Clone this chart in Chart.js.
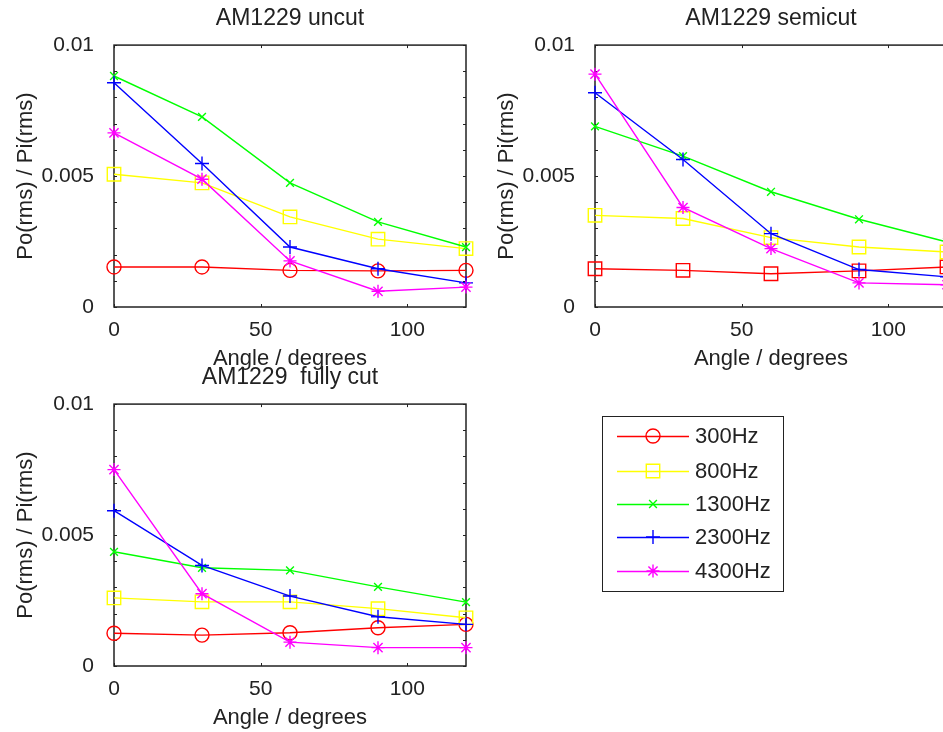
<!DOCTYPE html>
<html>
<head>
<meta charset="utf-8">
<script src="https://cdn.jsdelivr.net/npm/chart.js@4/dist/chart.umd.min.js"></script>
<style>
  html, body { margin: 0; padding: 0; background: #fff; overflow: hidden; }
  body { width: 943px; height: 732px; position: relative; }
  canvas.panel { position: absolute; }
  #legend {
    position: absolute; left: 602px; top: 416px; width: 180px; height: 174px;
    border: 1.5px solid #222; background: #fff;
    font-family: "Liberation Sans", Arial, sans-serif; font-size: 22px; color: #222;
  }
  #legend canvas { position: absolute; left: 0; top: 0; }
  #legend span { position: absolute; left: 92px; line-height: 24px; }
</style>
</head>
<body>
<canvas id="uncut" class="panel" width="480" height="370" style="left:0;top:0"></canvas>
<canvas id="semicut" class="panel" width="480" height="370" style="left:481px;top:0"></canvas>
<canvas id="fullycut" class="panel" width="480" height="370" style="left:0;top:359px"></canvas>
<div id="legend"><canvas id="legendMarks" width="180" height="174"></canvas></div>
<script>
/* 각도 (x 값) */
const angles = [0, 30, 60, 90, 120];

/* 주파수 이름, 색 */
const seriesNames = ['300Hz', '800Hz', '1300Hz', '2300Hz', '4300Hz'];
const seriesColors = ['#ff0000', '#ffff00', '#00ff00', '#0000ff', '#ff00ff'];

/* 패널별 마커 */
const markersDefault = ['circle', 'rect', 'crossRot', 'cross', 'star'];
const markersSemicut = ['rect', 'rect', 'crossRot', 'cross', 'star'];
const markerRadius = { circle: 7, rect: 9.5, crossRot: 5.5, cross: 7, star: 6.5 };

/* Po(rms) / Pi(rms) 값: 300Hz, 800Hz, 1300Hz, 2300Hz, 4300Hz 순 */
const uncutValues = [
  [0.00153, 0.00153, 0.0014, 0.00138, 0.0014],
  [0.00507, 0.00474, 0.00344, 0.00259, 0.00223],
  [0.00882, 0.00726, 0.00474, 0.00325, 0.00229],
  [0.00856, 0.00548, 0.00229, 0.00146, 0.00092],
  [0.00665, 0.00488, 0.00176, 0.0006, 0.00076],
];
const semicutValues = [
  [0.00146, 0.0014, 0.00127, 0.00138, 0.00153],
  [0.0035, 0.00338, 0.00265, 0.00229, 0.0021],
  [0.0069, 0.00576, 0.0044, 0.00335, 0.00248],
  [0.00818, 0.00563, 0.0028, 0.00143, 0.00115],
  [0.00889, 0.0038, 0.00223, 0.00092, 0.00085],
];
const fullycutValues = [
  [0.00125, 0.00118, 0.00127, 0.00146, 0.00159],
  [0.0026, 0.00245, 0.00245, 0.00219, 0.00184],
  [0.00436, 0.00375, 0.00365, 0.00302, 0.00244],
  [0.00593, 0.00384, 0.00267, 0.00188, 0.00159],
  [0.0075, 0.00276, 0.00091, 0.0007, 0.0007],
];

/* 눈금 */
const xTickValues = [0, 50, 100];
const xTickLabels = ['0', '50', '100'];
const yTickValues = [0, 0.005, 0.01];
const yTickLabels = ['0', '0.005', '0.01'];
const yMinorTicks = [0, 0.001, 0.002, 0.003, 0.004, 0.005, 0.006, 0.007, 0.008, 0.009, 0.01];

const fontFamily = '"Liberation Sans", Arial, sans-serif';
const textColor = '#222';

Chart.defaults.font.family = fontFamily;
Chart.defaults.color = textColor;

/* 축 상자와 안쪽 눈금, 제목은 그림 영역 가운데로 */
const boxTicks = {
  id: 'boxTicks',
  afterLayout(chart) {
    const a = chart.chartArea;
    if (chart.titleBlock) {
      chart.titleBlock.left = a.left;
      chart.titleBlock.right = a.right;
      chart.titleBlock.width = a.right - a.left;
    }
  },
  beforeDatasetsDraw(chart) {
    const { ctx, chartArea: a, scales: { x, y } } = chart;
    ctx.save();
    ctx.strokeStyle = textColor;
    ctx.lineWidth = 1.5;
    ctx.strokeRect(a.left, a.top, a.right - a.left, a.bottom - a.top);
    ctx.lineWidth = 1;
    ctx.beginPath();
    yMinorTicks.forEach((v) => {
      const py = Math.round(y.getPixelForValue(v)) + 0.5;
      ctx.moveTo(a.left, py);
      ctx.lineTo(a.left + 3, py);
      ctx.moveTo(a.right, py);
      ctx.lineTo(a.right - 3, py);
    });
    xTickValues.forEach((v) => {
      const px = Math.round(x.getPixelForValue(v)) + 0.5;
      ctx.moveTo(px, a.bottom);
      ctx.lineTo(px, a.bottom - 3);
      ctx.moveTo(px, a.top);
      ctx.lineTo(px, a.top + 3);
    });
    ctx.stroke();
    ctx.restore();
  },
};

function makePanel(id, title, values, markers) {
  const datasets = values.map((vals, i) => ({
    label: seriesNames[i],
    data: angles.map((a, j) => ({ x: a, y: vals[j] })),
    borderColor: seriesColors[i],
    borderWidth: 1.4,
    pointStyle: markers[i],
    pointRadius: markerRadius[markers[i]],
    pointBorderColor: seriesColors[i],
    pointBackgroundColor: 'rgba(0,0,0,0)',
    pointBorderWidth: 1.4,
    tension: 0,
    clip: false,
    order: values.length - i,
  }));

  new Chart(document.getElementById(id), {
    type: 'line',
    data: { datasets },
    plugins: [boxTicks],
    options: {
      responsive: false,
      animation: false,
      devicePixelRatio: 1,
      layout: { padding: { left: 0, right: 14, top: 0, bottom: 0 } },
      plugins: {
        legend: { display: false },
        tooltip: { enabled: false },
        title: {
          display: true,
          text: title,
          color: textColor,
          font: { size: 23, weight: 'normal' },
          padding: { top: 5, bottom: 12.5 },
        },
      },
      scales: {
        x: {
          type: 'linear',
          min: 0,
          max: 120,
          grid: { display: false },
          border: { display: false },
          afterBuildTicks: (scale) => {
            scale.ticks = xTickValues.map((v) => ({ value: v }));
          },
          afterFit: (scale) => {
            scale.height = 63;
          },
          ticks: {
            color: textColor,
            padding: 3,
            maxRotation: 0,
            font: { size: 21 },
            callback: (v) => xTickLabels[xTickValues.indexOf(v)],
          },
          title: {
            display: true,
            text: 'Angle / degrees',
            color: textColor,
            font: { size: 22 },
            padding: { top: 0, bottom: -2 },
          },
        },
        y: {
          type: 'linear',
          min: 0,
          max: 0.01,
          grid: { display: false },
          border: { display: false },
          afterBuildTicks: (scale) => {
            scale.ticks = yTickValues.map((v) => ({ value: v }));
          },
          afterFit: (scale) => {
            scale.width = 114;
          },
          ticks: {
            color: textColor,
            padding: 12,
            font: { size: 21 },
            callback: (v) => yTickLabels[yTickValues.indexOf(v)],
          },
          title: {
            display: true,
            text: 'Po(rms) / Pi(rms)',
            color: textColor,
            font: { size: 22 },
            padding: { top: 13, bottom: 0 },
          },
        },
      },
    },
  });
}

makePanel('uncut', 'AM1229 uncut', uncutValues, markersDefault);
makePanel('semicut', 'AM1229 semicut', semicutValues, markersSemicut);
makePanel('fullycut', 'AM1229  fully cut', fullycutValues, markersDefault);

/* 범례 */
const legendBox = document.getElementById('legend');
const legendCtx = document.getElementById('legendMarks').getContext('2d');
const legendRows = [19, 54, 87, 120, 154];

seriesNames.forEach((name, i) => {
  const yy = legendRows[i];
  legendCtx.save();
  legendCtx.strokeStyle = seriesColors[i];
  legendCtx.fillStyle = 'rgba(0,0,0,0)';
  legendCtx.lineWidth = 1.4;
  legendCtx.beginPath();
  legendCtx.moveTo(14, yy + 0.5);
  legendCtx.lineTo(86, yy + 0.5);
  legendCtx.stroke();
  const style = markersDefault[i];
  Chart.helpers.drawPoint(
    legendCtx,
    { pointStyle: style, radius: markerRadius[style], rotation: 0, borderWidth: 1.4 },
    50,
    yy,
  );
  legendCtx.restore();

  const label = document.createElement('span');
  label.textContent = name;
  label.style.top = yy - 12 + 'px';
  legendBox.appendChild(label);
});
</script>
</body>
</html>
